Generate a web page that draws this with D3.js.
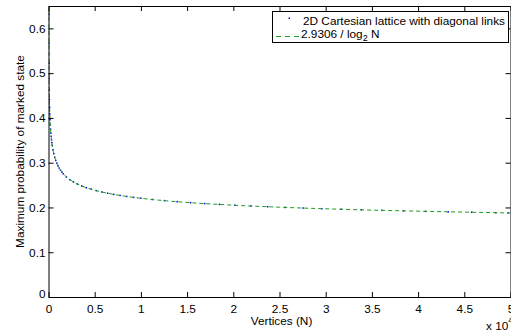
<!DOCTYPE html>
<html><head><meta charset="utf-8">
<script src="https://cdn.jsdelivr.net/npm/d3@7"></script>
<style>body{margin:0;background:#fff}svg{display:block}text{font-family:"Liberation Sans",Arial,sans-serif;fill:#000}</style>
</head><body>
<svg id="c" width="511" height="333"></svg>
<script>
// Lattice data (N vertices, max probability of marked state)
const latticeN = [25,36,49,64,81,100,121,144,169,196,225,256,289,324,361,400,484,576,676,784,900,1024,1156,1296,1444,1600,1936,2304,2704,3136,3600,4096,4624,5184,5776,6400,7056,7744,8464,9216,10000,11236,12544,13924,15376,16900,18496,20164,21904,23716,25600,27556,29584,31684,33856,36100,38416,40804,43264,45796,48400,49729];
const latticeP = [0.631,0.567,0.522,0.488,0.462,0.441,0.424,0.409,0.396,0.385,0.375,0.366,0.359,0.351,0.345,0.339,0.329,0.320,0.312,0.305,0.299,0.293,0.288,0.283,0.279,0.275,0.268,0.262,0.257,0.252,0.248,0.244,0.241,0.2375,0.2345,0.2318,0.2292,0.2269,0.2246,0.2225,0.2205,0.2178,0.2153,0.2129,0.2107,0.2087,0.2068,0.2049,0.2033,0.2016,0.2001,0.1987,0.1973,0.1960,0.1948,0.1936,0.1924,0.1913,0.1903,0.1893,0.1883,0.1878];
// Fit curve 2.9306 / log2 N, read at sample points
const fitN = [22,30,40,50,75,100,150,200,300,400,600,800,1000,1500,2000,3000,4000,5000,6000,8000,10000,12500,15000,20000,25000,30000,35000,40000,45000,50000];
const fitP = [0.657,0.597,0.551,0.519,0.470,0.441,0.405,0.383,0.356,0.339,0.318,0.304,0.294,0.278,0.267,0.254,0.245,0.2385,0.2335,0.226,0.2205,0.2153,0.2112,0.2051,0.2006,0.1970,0.1941,0.1917,0.1896,0.1877];
const xTicks = [0,5000,10000,15000,20000,25000,30000,35000,40000,45000,50000];
const xTickLabels = ["0","0.5","1","1.5","2","2.5","3","3.5","4","4.5","5"];
const yTicks = [0,0.1,0.2,0.3,0.4,0.5,0.6];
const yTickLabels = ["0","0.1","0.2","0.3","0.4","0.5","0.6"];
const legendLabels = ["2D Cartesian lattice with diagonal links","2.9306 / log"];

const svg = d3.select("#c");
const L=48.5, R=510.5, T=6, B=297;
const x = d3.scaleLinear().domain([0,50000]).range([L,R]);
const y = d3.scaleLinear().domain([0,0.65]).range([B,T]);
const blue="#0000ff", green="#1f9a1f";

svg.append("defs").append("clipPath").attr("id","clip")
  .append("rect").attr("x",L).attr("y",T).attr("width",R-L).attr("height",B-T);

const g = svg.append("g").attr("clip-path","url(#clip)");
g.selectAll("rect.pt").data(latticeN.map((n,i)=>[n,latticeP[i]])).enter().append("rect")
  .attr("x",d=>x(d[0])-0.75).attr("y",d=>y(d[1])-0.75).attr("width",1.5).attr("height",1.5).attr("fill",blue);
g.append("path").datum(fitN.map((n,i)=>[n,fitP[i]]))
  .attr("d",d3.line().x(d=>x(d[0])).y(d=>y(d[1])).curve(d3.curveMonotoneX))
  .attr("fill","none").attr("stroke",green).attr("stroke-width",1).attr("stroke-dasharray","4,3");

// axes
const fs=11.8;
const axB = svg.append("g").attr("transform",`translate(0,${B})`)
  .call(d3.axisBottom(x).tickValues(xTicks).tickFormat((d,i)=>xTickLabels[i]).tickSizeInner(-5).tickSizeOuter(0).tickPadding(7.5));
const axT = svg.append("g").attr("transform",`translate(0,${T})`)
  .call(d3.axisTop(x).tickValues(xTicks).tickFormat("").tickSizeInner(-5).tickSizeOuter(0));
const axL = svg.append("g").attr("transform",`translate(${L},0)`)
  .call(d3.axisLeft(y).tickValues(yTicks).tickFormat((d,i)=>yTickLabels[i]).tickSizeInner(-5).tickSizeOuter(0).tickPadding(3));
const axR = svg.append("g").attr("transform",`translate(${R},0)`)
  .call(d3.axisRight(y).tickValues(yTicks).tickFormat("").tickSizeInner(-5).tickSizeOuter(0));
[axB,axT,axL,axR].forEach(a=>{
  a.selectAll("path.domain").attr("stroke","#000").attr("stroke-width",1);
  a.selectAll("line").attr("stroke","#000");
  a.selectAll("text").attr("font-size",fs).attr("font-family","Liberation Sans, Arial, sans-serif").attr("fill","#000");
});
axL.selectAll(".tick").filter(d=>d===0).select("text").attr("dy","0.08em");

svg.append("text").attr("x",(L+R)/2+2).attr("y",324.5).attr("text-anchor","middle").attr("font-size",fs).text("Vertices (N)");
svg.append("text").attr("transform",`translate(24,${(T+B)/2}) rotate(-90)`).attr("text-anchor","middle").attr("font-size",fs).text("Maximum probability of marked state");
const xe = svg.append("text").attr("x",486).attr("y",329.5).attr("font-size",fs);
xe.append("tspan").text("x 10");
xe.append("tspan").attr("dy",-7).attr("font-size",9).text("4");

// legend
const lg = svg.append("g");
lg.append("rect").attr("x",272.5).attr("y",11.5).attr("width",236).attr("height",31).attr("fill","#fff").attr("stroke","#000").attr("stroke-width",1);
lg.append("rect").attr("x",288.5).attr("y",17.5).attr("width",1.5).attr("height",1.5).attr("fill",blue);
lg.append("text").attr("x",303).attr("y",24.5).attr("font-size",fs).text(legendLabels[0]);
lg.append("line").attr("x1",276).attr("x2",300).attr("y1",36.5).attr("y2",36.5).attr("stroke",green).attr("stroke-dasharray","5,4");
const t2 = lg.append("text").attr("x",301).attr("y",37.5).attr("font-size",fs);
t2.append("tspan").text(legendLabels[1]);
t2.append("tspan").attr("dy",3).attr("font-size",9).text("2");
t2.append("tspan").attr("dy",-3).text(" N");
</script>
</body></html>
